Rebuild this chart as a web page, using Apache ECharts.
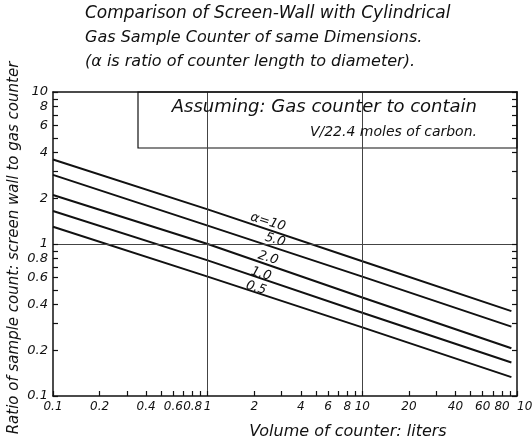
<!DOCTYPE html>
<html><head><meta charset="utf-8">
<script src="https://cdn.jsdelivr.net/npm/echarts@6/dist/echarts.min.js"></script>
<style>html,body{margin:0;padding:0;background:#fff}#c{width:532px;height:445px}</style>
</head><body><div id="c"></div>
<script>
// ---- data ----
const volumes = [0.1, 1, 10, 92];
const alphaNames = ['α=10', '5.0', '2.0', '1.0', '0.5'];
const ratioAlpha10 = [3.6, 1.69, 0.77, 0.362];
const ratioAlpha5 = [2.85, 1.32, 0.61, 0.286];
const ratioAlpha2 = [2.1, 1.0, 0.445, 0.206];
const ratioAlpha1 = [1.65, 0.78, 0.353, 0.166];
const ratioAlpha05 = [1.3, 0.61, 0.283, 0.133];
const xLabelValues = [0.1, 0.2, 0.4, 0.6, 0.8, 1, 2, 4, 6, 8, 10, 20, 40, 60, 80, 100];
const xTickValues = [0.1, 0.2, 0.3, 0.4, 0.5, 0.6, 0.7, 0.8, 0.9, 1, 2, 3, 4, 5, 6, 7, 8, 9, 10, 20, 30, 40, 50, 60, 70, 80, 90, 100];
const yLabelValues = [0.1, 0.2, 0.4, 0.6, 0.8, 1, 2, 4, 6, 8, 10];
const yTickValues = [0.1, 0.2, 0.3, 0.4, 0.5, 0.6, 0.7, 0.8, 0.9, 1, 2, 3, 4, 5, 6, 7, 8, 9, 10];
const gridX = [1, 10];
const gridY = [1];
const titleLines = ['Comparison of Screen-Wall with Cylindrical', 'Gas Sample Counter of same Dimensions.', '(α is ratio of counter length to diameter).'];
const noteLines = ['Assuming: Gas counter to contain', 'V/22.4 moles of carbon.'];
const xName = 'Volume of counter: liters';
const yName = 'Ratio of sample count: screen wall to gas counter';

const FONT = 'DejaVu Sans';
const INK = '#111';
const chart = echarts.init(document.getElementById('c'));
const fmt = v => String(+(+v).toPrecision(3));
const allSeries = [ratioAlpha10, ratioAlpha5, ratioAlpha2, ratioAlpha1, ratioAlpha05];

const series = allSeries.map((arr, i) => ({
  type: 'line', name: alphaNames[i], symbol: 'none', z: 3,
  data: volumes.map((v, k) => [v, arr[k]]),
  lineStyle: {color: INK, width: 2},
  animation: false
}));
series.push({
  type: 'line', data: [], z: 1, silent: true, animation: false,
  markLine: {
    symbol: 'none', silent: true, animation: false, label: {show: false},
    lineStyle: {color: '#444', width: 1, type: 'solid'},
    data: gridX.map(v => ({xAxis: v})).concat(gridY.map(v => ({yAxis: v})))
  }
});

const axisCommon = {
  type: 'log', logBase: 10, zlevel: 1, z: 10,
  axisLine: {show: true, lineStyle: {color: INK, width: 1.5}},
  splitLine: {show: false}, minorTick: {show: false}
};
const labelStyle = {color: INK, fontFamily: FONT, fontStyle: 'italic', fontSize: 13, formatter: fmt,
  showMinLabel: true, showMaxLabel: true, hideOverlap: false};

const labelPos = [[268, 222], [275, 240], [268, 258], [261, 274], [256, 288]];
const titleSizes = [17, 16, 16];
const graphic = [];
titleLines.forEach((t, i) => graphic.push({type: 'text', x: 85, y: 14 + i * 24, z: 20,
  style: {text: t, font: 'italic ' + titleSizes[i] + 'px "' + FONT + '"', fill: INK, verticalAlign: 'middle'}}));
graphic.push({type: 'rect', shape: {x: 138, y: 92, width: 379, height: 56}, z: 5,
  style: {fill: '#fff', stroke: INK, lineWidth: 1.2}});
graphic.push({type: 'text', x: 477, y: 107, z: 20, style: {text: noteLines[0], font: 'italic 18px "' + FONT + '"', fill: INK, align: 'right', verticalAlign: 'middle'}});
graphic.push({type: 'text', x: 477, y: 132, z: 20, style: {text: noteLines[1], font: 'italic 14px "' + FONT + '"', fill: INK, align: 'right', verticalAlign: 'middle'}});
graphic.push({type: 'text', x: 348, y: 432, z: 20, style: {text: xName, font: 'italic 16px "' + FONT + '"', fill: INK, align: 'center', verticalAlign: 'middle'}});
graphic.push({type: 'text', x: 14, y: 248, rotation: Math.PI / 2, z: 20, style: {text: yName, font: 'italic 15px "' + FONT + '"', fill: INK, align: 'center', verticalAlign: 'middle'}});
alphaNames.forEach((t, i) => graphic.push({type: 'text', x: labelPos[i][0], y: labelPos[i][1], rotation: -0.3, z: 20,
  style: {text: t, font: 'italic 13px "' + FONT + '"', fill: INK, align: 'center', verticalAlign: 'middle'}}));

chart.setOption({
  animation: false,
  backgroundColor: '#fff',
  grid: {left: 53, right: 15, top: 92, bottom: 49, containLabel: false, outerBoundsMode: 'none'},
  xAxis: [
    Object.assign({}, axisCommon, {min: 0.1, max: 100, position: 'bottom',
      axisTick: {show: true, inside: true, length: 5, lineStyle: {color: INK, width: 1.2}, customValues: xTickValues},
      axisLabel: Object.assign({}, labelStyle, {margin: 5, fontSize: 12, alignMaxLabel: 'left', customValues: xLabelValues})}),
    Object.assign({}, axisCommon, {min: 0.1, max: 100, position: 'top',
      axisTick: {show: false}, axisLabel: {show: false}})
  ],
  yAxis: [
    Object.assign({}, axisCommon, {min: 0.1, max: 10, position: 'left',
      axisTick: {show: true, inside: true, length: 5, lineStyle: {color: INK, width: 1.2}, customValues: yTickValues},
      axisLabel: Object.assign({}, labelStyle, {margin: 5, customValues: yLabelValues})}),
    Object.assign({}, axisCommon, {min: 0.1, max: 10, position: 'right',
      axisTick: {show: true, inside: true, length: 5, lineStyle: {color: INK, width: 1.2}, customValues: yTickValues},
      axisLabel: {show: false}})
  ],
  series: series,
  graphic: graphic
});
</script></body></html>
